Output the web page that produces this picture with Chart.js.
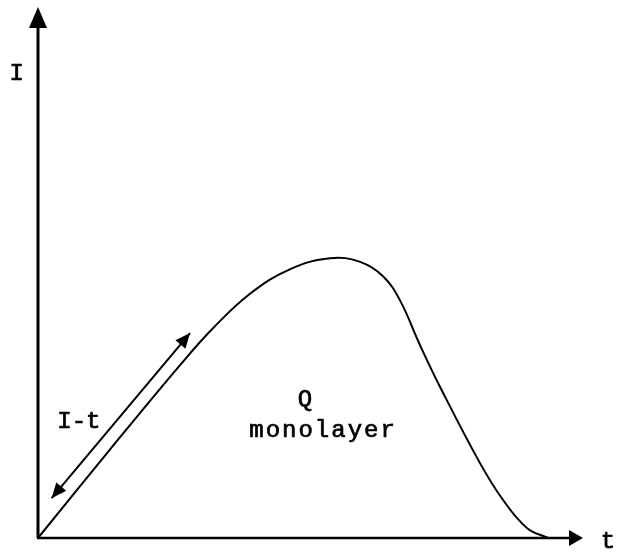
<!DOCTYPE html>
<html>
<head>
<meta charset="utf-8">
<script src="https://cdn.jsdelivr.net/npm/chart.js@4.4.1/dist/chart.umd.min.js"></script>
<style>
  html, body { margin: 0; padding: 0; background: #fff; }
  canvas { display: block; }
</style>
</head>
<body>
<canvas id="courbeChart" width="617" height="555"></canvas>
<script>
// Courbe I(t) : montée linéaire, plateau (monocouche), puis chute
const tempsValeurs = [0, 1.30, 2.61, 3.21, 3.89, 4.62, 5.36, 5.91, 6.33, 6.64, 7.01, 7.38, 8.11, 8.53, 8.97, 9.36];
const courantValeurs = [0, 1.64, 3.26, 3.95, 4.60, 5.06, 5.27, 5.20, 4.93, 4.48, 3.63, 2.84, 1.41, 0.72, 0.19, 0];

// Double flèche "I-t" le long de la partie linéaire
const flecheT = [0.25, 2.79];
const flecheI = [0.75, 3.86];

// Bornes des axes (unités arbitraires)
const tMax = 10;
const iMax = 10;

// Textes
const etiquettes = [
    { texte: 'I', t: -0.39, i: 8.63, espace: 0 },
    { texte: 'I-t', t: 0.75, i: 2.07, espace: 0 },
    { texte: 'Q', t: 4.90, i: 2.49, espace: 0 },
    { texte: 'monolayer', t: 5.23, i: 1.90, espace: 2 },
    { texte: 't', t: 10.46, i: -0.19, espace: 0 }
];

const courbe = tempsValeurs.map((t, k) => ({ x: t, y: courantValeurs[k] }));
const fleche = flecheT.map((t, k) => ({ x: t, y: flecheI[k] }));

function pointeFleche(ctx, xp, yp, xd, yd, longueur, largeur) {
    const ang = Math.atan2(yp - yd, xp - xd);
    const bx = xp - longueur * Math.cos(ang);
    const by = yp - longueur * Math.sin(ang);
    const nx = -Math.sin(ang) * largeur / 2;
    const ny = Math.cos(ang) * largeur / 2;
    ctx.beginPath();
    ctx.moveTo(xp, yp);
    ctx.lineTo(bx + nx, by + ny);
    ctx.lineTo(bx - nx, by - ny);
    ctx.closePath();
    ctx.fill();
}

const dessinAxes = {
    id: 'dessinAxes',
    afterDatasetsDraw(chart) {
        const { ctx, scales: { x, y } } = chart;
        const x0 = x.getPixelForValue(0), y0 = y.getPixelForValue(0);
        const xf = x.getPixelForValue(tMax), yf = y.getPixelForValue(iMax);
        ctx.save();
        ctx.strokeStyle = '#000';
        ctx.fillStyle = '#000';
        ctx.lineWidth = 3;
        ctx.beginPath();
        ctx.moveTo(x0, y0);
        ctx.lineTo(x0, yf + 10);
        ctx.stroke();
        ctx.lineWidth = 2.5;
        ctx.beginPath();
        ctx.moveTo(x0 - 1, y0);
        ctx.lineTo(xf - 6, y0);
        ctx.stroke();
        pointeFleche(ctx, x0, yf, x0, y0, 21, 18);
        pointeFleche(ctx, xf, y0, x0, y0, 14, 16);

        // pointes de la double flèche
        const ax = x.getPixelForValue(flecheT[0]), ay = y.getPixelForValue(flecheI[0]);
        const bx = x.getPixelForValue(flecheT[1]), by = y.getPixelForValue(flecheI[1]);
        pointeFleche(ctx, ax, ay, bx, by, 15, 13);
        pointeFleche(ctx, bx, by, ax, ay, 15, 13);

        ctx.font = '24px "Liberation Mono", monospace';
        ctx.textAlign = 'center';
        ctx.textBaseline = 'alphabetic';
        ctx.lineWidth = 0.7;
        etiquettes.forEach(e => {
            const px = x.getPixelForValue(e.t), py = y.getPixelForValue(e.i);
            ctx.letterSpacing = e.espace + 'px';
            ctx.fillText(e.texte, px, py);
            ctx.strokeText(e.texte, px, py);
        });
        ctx.restore();
    }
};

new Chart(document.getElementById('courbeChart').getContext('2d'), {
    type: 'scatter',
    data: {
        datasets: [
            {
                data: courbe,
                showLine: true,
                borderColor: '#000',
                borderWidth: 2,
                pointRadius: 0,
                tension: 0.4,
                clip: false
            },
            {
                data: fleche,
                showLine: true,
                borderColor: '#000',
                borderWidth: 2,
                pointRadius: 0,
                tension: 0,
                clip: false
            }
        ]
    },
    options: {
        responsive: false,
        animation: false,
        devicePixelRatio: 1,
        layout: { padding: { left: 38, top: 7, right: 34, bottom: 17 } },
        plugins: { legend: { display: false }, tooltip: { enabled: false } },
        scales: {
            x: { type: 'linear', min: 0, max: tMax, display: false },
            y: { type: 'linear', min: 0, max: iMax, display: false }
        }
    },
    plugins: [dessinAxes]
});
</script>
</body>
</html>
